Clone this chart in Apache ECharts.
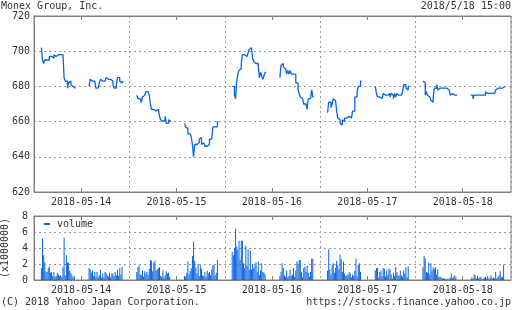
<!DOCTYPE html>
<html><head><meta charset="utf-8">
<script src="https://cdn.jsdelivr.net/npm/echarts@6/dist/echarts.min.js"></script>
<style>html,body{margin:0;padding:0;background:#fff}#c{width:512px;height:310px}</style>
</head><body><div id="c"></div>
<script>
const dayLabels = ['2018-05-14','2018-05-15','2018-05-16','2018-05-17','2018-05-18'];
const priceTicks = [620,640,660,680,700,720];
const volumeTicks = [0,2,4,6,8];

// price, 5-minute bars (morning 9:00-11:30, afternoon 12:30-15:00)
const price14am = [702,695,693,695,695,695,695,697,697,698,696,698,697,698,698,698,698,698,698,698,685,683,683,679,682,683,681,680,680,679];
const price14pm = [680,684,683,684,683,682,679,679,680,682,684,683,684,683,684,685,684,685,684,684,683,681,679,679,681,685,685,683,682,683];
const price15am = [675,673,673,673,671,674,675,675,677,677,677,675,670,667,667,668,666,667,667,667,663,661,660,660,661,663,659,659,661,660];
const price15pm = [659,657,656,653,653,653,651,647,640,647,647,647,648,650,651,647,648,647,646,646,646,647,650,650,650,657,657,658,657,660];
const price16am = [680,680,675,673,683,687,689,690,693,698,698,698,697,697,699,701,702,702,696,694,693,693,693,691,685,688,686,684,686,688];
const price16pm = [685,692,693,691,690,690,687,689,687,689,687,687,688,687,682,682,678,676,674,673,672,670,670,669,667,673,673,674,678,674];
const price17am = [665,671,671,668,670,673,672,671,666,662,661,659,658,661,660,662,662,662,663,663,662,662,666,666,674,674,677,680,680,683];
const price17pm = [680,676,674,674,674,673,674,676,675,674,675,675,676,674,676,675,673,676,674,676,675,676,675,676,677,681,681,679,678,680];
const price18am = [683,682,675,677,675,674,674,672,671,674,679,679,681,678,679,678,679,679,679,678,679,679,678,678,675,676,676,675,675,675];
const price18pm = [675,675,673,675,675,676,675,675,675,674,675,675,675,677,676,676,676,676,676,676,676,676,678,679,679,679,679,679,679,680];

// volume (x1000000)
const vol14am = [1.5,5.2,3.1,2.2,1.1,1.0,1.5,1.7,0.9,1.0,0.5,1.0,0.4,0.5,0.9,0.7,0.5,0.6,0.4,1.6,5.3,0.6,3.1,2.2,2.2,1.2,0.9,0.6,0.3,0.5];
const vol14pm = [1.5,1.3,0.9,1.2,0.5,1.0,0.4,1.0,0.3,0.6,1.3,0.3,0.8,0.3,1.0,0.9,0.6,0.4,0.9,0.3,0.8,0.8,0.5,1.0,0.6,1.3,0.5,1.5,0.7,1.6];
const vol15am = [1.0,1.6,1.8,0.7,0.6,1.2,0.4,1.1,0.8,1.0,0.6,1.4,2.5,2.4,1.1,2.2,2.4,1.2,1.3,1.5,1.6,0.5,0.4,1.2,0.3,0.6,1.1,0.8,0.9,0.4];
const vol15pm = [0.5,0.4,0.9,2.3,0.7,1.1,1.5,3.0,4.8,2.4,1.6,0.8,2.0,0.5,1.8,1.4,0.6,0.5,1.0,0.4,1.2,0.8,1.0,0.6,1.3,1.8,1.9,0.6,0.9,2.5];
const vol16am = [3.5,3.1,4.0,6.4,4.2,3.8,4.9,2.5,4.9,4.9,2.1,1.5,4.3,1.8,3.8,1.3,3.7,1.3,2.0,1.5,1.8,2.2,1.0,2.3,0.6,1.2,2.1,1.0,0.9,0.7];
const vol16pm = [0.5,1.0,2.1,1.5,0.6,0.4,1.2,0.3,0.5,1.3,0.5,0.7,1.5,0.4,1.2,2.3,2.0,2.5,2.5,1.0,0.3,1.5,1.7,1.0,1.8,0.9,0.4,1.0,2.7,2.7];
const vol17am = [1.2,3.8,1.3,0.7,1.9,2.1,0.9,1.5,2.4,1.9,1.3,3.2,2.6,1.0,2.3,0.8,0.5,0.6,0.7,1.0,0.8,0.3,0.7,0.5,1.2,2.7,0.4,1.9,2.1,1.0];
const vol17pm = [1.2,1.5,1.5,0.3,1.0,1.2,0.5,1.5,1.4,0.4,1.2,0.6,1.4,1.3,0.7,0.2,0.9,0.5,1.6,1.0,0.6,0.5,1.2,0.6,0.4,1.2,0.8,1.6,0.3,1.7];
const vol18am = [1.6,3.0,2.7,1.0,0.9,2.2,0.7,2.1,1.2,1.6,1.4,1.6,0.7,1.3,0.4,0.4,0.3,0.2,0.2,0.2,0.1,0.1,0.2,0.1,0.3,0.8,0.2,0.4,0.6,0.3];
const vol18pm = [0.1,0.3,0.2,0.7,0.6,0.2,0.5,0.2,0.3,0.4,0.1,0.2,0.3,0.4,0.2,0.5,0.1,0.3,0.6,0.2,0.3,0.2,1.0,0.2,0.4,0.6,1.1,0.3,0.4,1.9];

const priceAM = [price14am,price15am,price16am,price17am,price18am];
const pricePM = [price14pm,price15pm,price16pm,price17pm,price18pm];
const volAM = [vol14am,vol15am,vol16am,vol17am,vol18am];
const volPM = [vol14pm,vol15pm,vol16pm,vol17pm,vol18pm];

const SLOTS = 84;      // 8:30 - 15:30 in 5-minute slots
const AM0 = 6, PM0 = 48, MID = 41;

const categories = [], priceData = [], volData = [];
dayLabels.forEach((d, di) => {
  for (let s = 0; s < SLOTS; s++) {
    const m = 8*60+30+5*s;
    categories.push(d + ' ' + String(Math.floor(m/60)).padStart(2,'0') + ':' + String(m%60).padStart(2,'0'));
    let p = null, v = null;
    if (s >= AM0 && s < AM0 + priceAM[di].length) { p = priceAM[di][s-AM0]; v = volAM[di][s-AM0]; }
    if (s >= PM0 && s < PM0 + pricePM[di].length) { p = pricePM[di][s-PM0]; v = volPM[di][s-PM0]; }
    priceData.push(p); volData.push(v);
  }
});

const FONT = 'DejaVu Sans Mono';
const TXT = '#333';
const BORDER = '#808080';
const GRIDC = '#999';
const BLUE = '#0a64e0';
const midFn = (i) => i % SLOTS === MID;
const dayFn = (i) => i % SLOTS === 0 && i > 0;

function xAxes(gridIndex) {
  const base = {
    type: 'category', data: categories, gridIndex, boundaryGap: true,
    axisLine: { show: true, lineStyle: { color: BORDER } },
    axisTick: { show: true, inside: true, length: 4, interval: midFn, alignWithLabel: true, lineStyle: { color: BORDER } },
  };
  return [
    Object.assign({}, base, {
      position: 'bottom',
      axisLabel: { show: true, interval: midFn, formatter: v => v.slice(0,10), color: TXT, fontFamily: FONT, fontSize: 10, margin: 5 },
      splitLine: { show: true, interval: dayFn, lineStyle: { color: GRIDC, type: [2,3] } }
    }),
    Object.assign({}, base, {
      position: 'top', axisLabel: { show: false }, splitLine: { show: false }
    })
  ];
}

const chart = echarts.init(document.getElementById('c'), null, { renderer: 'canvas' });
chart.setOption({
  animation: false,
  backgroundColor: '#fff',
  textStyle: { fontFamily: FONT },
  grid: [
    { left: 34, top: 16, width: 477, height: 176, show: true, borderColor: BORDER, borderWidth: 1, containLabel: false, outerBoundsMode: 'none' },
    { left: 34, top: 216, width: 477, height: 64, show: true, borderColor: BORDER, borderWidth: 1, containLabel: false, outerBoundsMode: 'none' }
  ],
  xAxis: [...xAxes(0), ...xAxes(1)],
  yAxis: [
    { type: 'value', gridIndex: 0, min: priceTicks[0], max: priceTicks[priceTicks.length-1], interval: 20,
      axisLine: { show: true, lineStyle: { color: BORDER } }, axisTick: { show: false },
      axisLabel: { color: TXT, fontFamily: FONT, fontSize: 10, margin: 4 },
      splitLine: { show: true, showMinLine: false, showMaxLine: false, lineStyle: { color: GRIDC, type: [2,3] } } },
    { type: 'value', gridIndex: 1, min: volumeTicks[0], max: volumeTicks[volumeTicks.length-1], interval: 2,
      name: '(x1000000)', nameLocation: 'middle', nameRotate: 90, nameGap: 24,
      nameTextStyle: { color: TXT, fontFamily: FONT, fontSize: 10 },
      axisLine: { show: true, lineStyle: { color: BORDER } }, axisTick: { show: false },
      axisLabel: { color: TXT, fontFamily: FONT, fontSize: 10, margin: 6 },
      splitLine: { show: true, showMinLine: false, showMaxLine: false, lineStyle: { color: GRIDC, type: [2,3] } } }
  ],
  legend: {
    data: ['volume'], left: 44, top: 219, icon: 'rect', itemWidth: 6, itemHeight: 2, itemGap: 4,
    textStyle: { color: TXT, fontFamily: FONT, fontSize: 10, padding: [0,0,0,2] }, padding: 0
  },
  series: [
    { name: 'price', type: 'line', xAxisIndex: 0, yAxisIndex: 0, data: priceData, step: 'end',
      showSymbol: false, connectNulls: false, lineStyle: { color: BLUE, width: 1.3 }, itemStyle: { color: BLUE } },
    { name: 'volume', type: 'bar', xAxisIndex: 2, yAxisIndex: 1, data: volData, barWidth: 1,
      itemStyle: { color: BLUE } }
  ],
  graphic: [
    { type: 'text', left: 1, top: 1, style: { text: 'Monex Group, Inc.', fill: TXT, font: '10px ' + FONT } },
    { type: 'text', right: 1, top: 1, style: { text: '2018/5/18 15:00', fill: TXT, font: '10px ' + FONT } },
    { type: 'text', left: 1, top: 297, style: { text: '(C) 2018 Yahoo Japan Corporation.', fill: TXT, font: '10px ' + FONT } },
    { type: 'text', right: 1, top: 297, style: { text: 'https://stocks.finance.yahoo.co.jp', fill: TXT, font: '10px ' + FONT } }
  ]
});
</script></body></html>
